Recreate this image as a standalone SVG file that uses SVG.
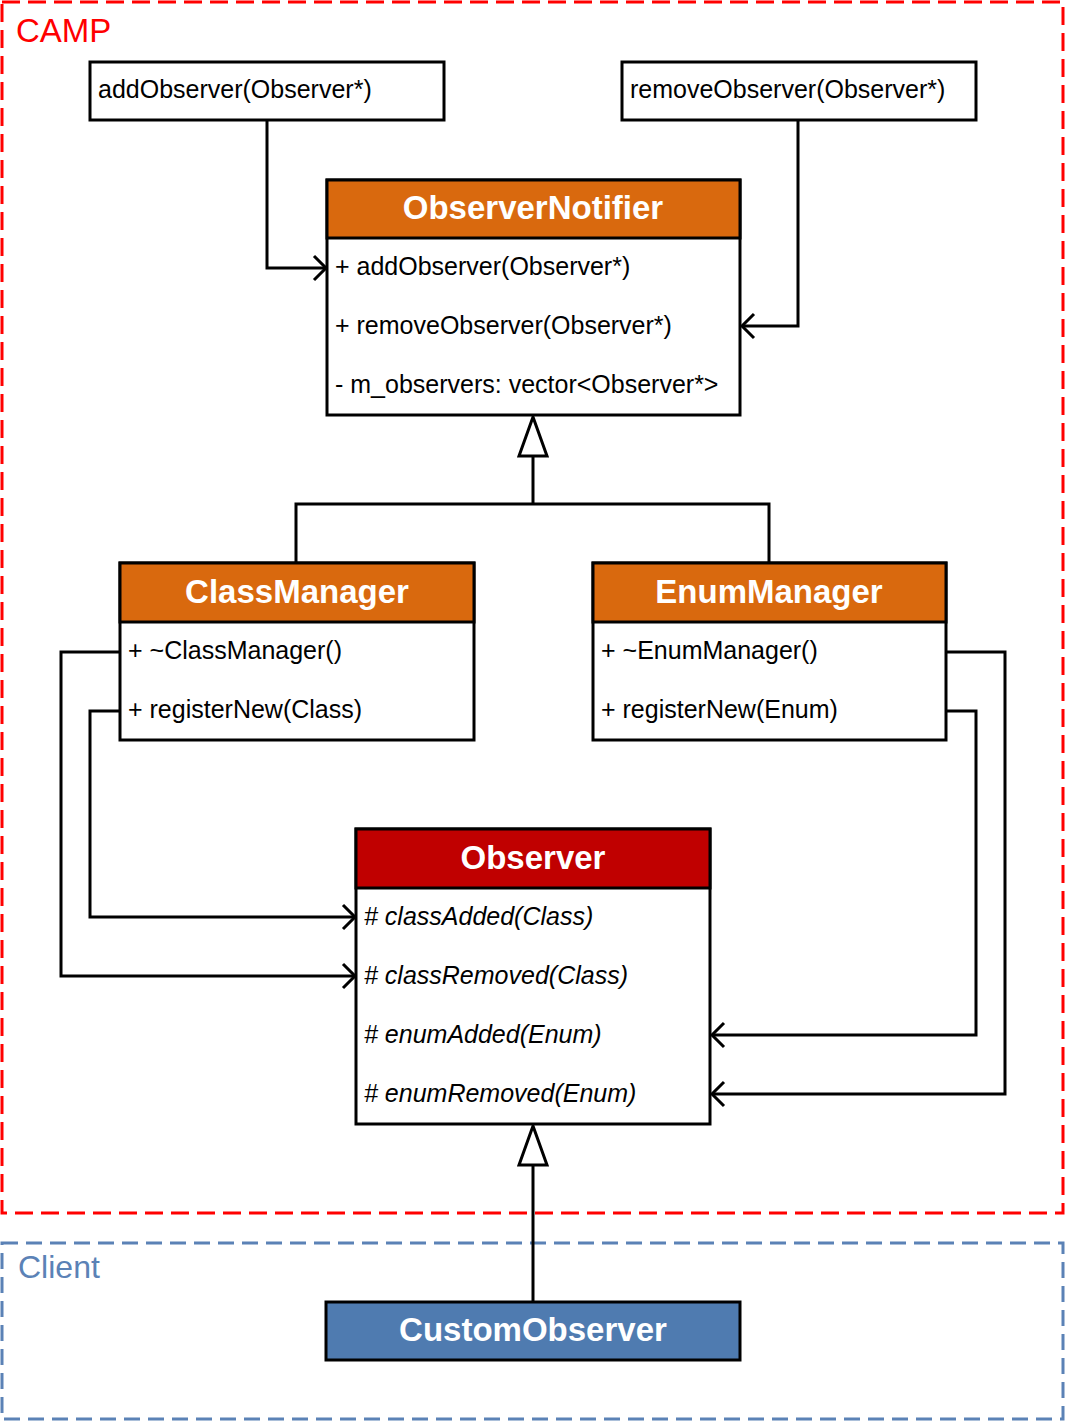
<svg xmlns="http://www.w3.org/2000/svg" width="1066" height="1422" viewBox="0 0 1066 1422">
<style>
.box{fill:#fff;stroke:#000;stroke-width:3}
.hdr{stroke:#000;stroke-width:3}
.ttl{font-family:"Liberation Sans",Arial,sans-serif;font-weight:bold;font-size:33px;fill:#fff;text-anchor:middle}
.t{font-family:"Liberation Sans",Arial,sans-serif;font-size:25px;fill:#000}
.it{font-style:italic}
.ln{fill:none;stroke:#000;stroke-width:3}
.arr{fill:none;stroke:#000;stroke-width:3}
.tri{fill:#fff;stroke:#000;stroke-width:3}
</style>
<rect id="camp" x="2" y="2" width="1061" height="1211" fill="none" stroke="#f00" stroke-width="3" stroke-dasharray="18 8"/>
<text x="16" y="42" font-family="Liberation Sans,Arial,sans-serif" font-size="33" fill="#f00">CAMP</text>
<rect id="client" x="2" y="1243" width="1061" height="176" fill="none" stroke="#5b82b6" stroke-width="3" stroke-dasharray="16 8"/>
<text x="18" y="1278" font-family="Liberation Sans,Arial,sans-serif" font-size="32" fill="#5b82b6">Client</text>

<g id="connectors">
  <polyline class="ln" points="267,120 267,268 326,268"/>
  <polyline class="arr" points="314,256 326,268 314,280"/>
  <polyline class="ln" points="798,120 798,326 742,326"/>
  <polyline class="arr" points="754,314 742,326 754,338"/>
  <polyline class="ln" points="296,563 296,504 769,504 769,563"/>
  <line class="ln" x1="533" y1="504" x2="533" y2="456"/>
  <polygon class="tri" points="533,417 519,456 547,456"/>
  <polyline class="ln" points="120,652 61,652 61,976 355,976"/>
  <polyline class="arr" points="343,964 355,976 343,988"/>
  <polyline class="ln" points="120,711 90,711 90,917 355,917"/>
  <polyline class="arr" points="343,905 355,917 343,929"/>
  <polyline class="ln" points="946,652 1005,652 1005,1094 712,1094"/>
  <polyline class="arr" points="724,1082 712,1094 724,1106"/>
  <polyline class="ln" points="946,711 976,711 976,1035 712,1035"/>
  <polyline class="arr" points="724,1023 712,1035 724,1047"/>
  <line class="ln" x1="533" y1="1302" x2="533" y2="1165" stroke-width="2.5"/>
  <polygon class="tri" points="533,1126 519,1165 547,1165"/>
</g>

<g id="addObserverNote">
  <rect class="box" x="90" y="62" width="354" height="58"/>
  <text class="t" x="98" y="98">addObserver(Observer*)</text>
</g>
<g id="removeObserverNote">
  <rect class="box" x="622" y="62" width="354" height="58"/>
  <text class="t" x="630" y="98">removeObserver(Observer*)</text>
</g>

<g id="ObserverNotifier">
  <rect class="box" x="327" y="180" width="413" height="235"/>
  <rect class="hdr" x="327" y="180" width="413" height="58" fill="#d9690e"/>
  <text class="ttl" x="533" y="219">ObserverNotifier</text>
  <text class="t" x="335" y="275">+ addObserver(Observer*)</text>
  <text class="t" x="335" y="334">+ removeObserver(Observer*)</text>
  <text class="t" x="335" y="393">- m_observers: vector&lt;Observer*&gt;</text>
</g>

<g id="ClassManager">
  <rect class="box" x="120" y="563" width="354" height="177"/>
  <rect class="hdr" x="120" y="563" width="354" height="59" fill="#d9690e"/>
  <text class="ttl" x="297" y="603">ClassManager</text>
  <text class="t" x="128" y="659">+ ~ClassManager()</text>
  <text class="t" x="128" y="718">+ registerNew(Class)</text>
</g>

<g id="EnumManager">
  <rect class="box" x="593" y="563" width="353" height="177"/>
  <rect class="hdr" x="593" y="563" width="353" height="59" fill="#d9690e"/>
  <text class="ttl" x="769" y="603">EnumManager</text>
  <text class="t" x="601" y="659">+ ~EnumManager()</text>
  <text class="t" x="601" y="718">+ registerNew(Enum)</text>
</g>

<g id="Observer">
  <rect class="box" x="356" y="829" width="354" height="295"/>
  <rect class="hdr" x="356" y="829" width="354" height="59" fill="#c00000"/>
  <text class="ttl" x="533" y="869">Observer</text>
  <text class="t it" x="364" y="925"># classAdded(Class)</text>
  <text class="t it" x="364" y="984"># classRemoved(Class)</text>
  <text class="t it" x="364" y="1043"># enumAdded(Enum)</text>
  <text class="t it" x="364" y="1102"># enumRemoved(Enum)</text>
</g>

<g id="CustomObserver">
  <rect class="hdr" x="326" y="1302" width="414" height="58" fill="#4f7bb0"/>
  <text class="ttl" x="533" y="1341">CustomObserver</text>
</g>
</svg>
